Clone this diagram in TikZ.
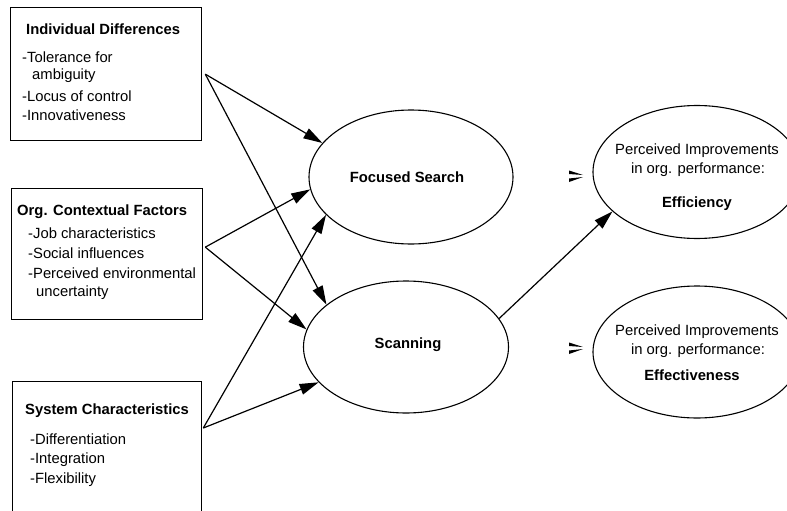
\documentclass[tikz,border=0pt]{standalone}
\usepackage{fontspec}
\setmainfont{Liberation Sans}
\usetikzlibrary{arrows.meta,shapes.geometric}
\begin{document}
\begin{tikzpicture}[x=1pt,y=-1pt,
 box/.style={draw,line width=1.3pt,rectangle,inner sep=0,anchor=north west},
 oval/.style={draw,ellipse,line width=1.1pt,inner sep=0},
 ttl/.style={font=\fontsize{14.8}{17}\selectfont\bfseries,anchor=base west,inner sep=0},
 itm/.style={font=\fontsize{14.8}{17}\selectfont,anchor=base west,inner sep=0},
 ctr/.style={font=\fontsize{14.8}{17}\selectfont,anchor=base,inner sep=0},
 ctrb/.style={font=\fontsize{14.8}{17}\selectfont\bfseries,anchor=base,inner sep=0},
 arr/.style={line width=1.2pt,-{Triangle[length=19pt,width=11pt]}}]
\useasboundingbox (0,0) rectangle (787,511);
\clip (0,0) rectangle (787,511);
% boxes
\node[box,minimum width=191pt,minimum height=133pt] (b1) at (10,7) {};
\node[box,minimum width=191pt,minimum height=131pt] (b2) at (11,188) {};
\node[box,minimum width=189pt,minimum height=160pt] (b3) at (12,381) {};
% box texts
\node[ttl] (t1) at (26,35) {Individual Differences};
\node[itm] (t1a) at (22,63) {-Tolerance for};
\node[itm] (t1b) at (32,80) {ambiguity};
\node[itm] (t1c) at (22,101) {-Locus of control};
\node[itm] (t1d) at (22,120) {-Innovativeness};
\node[ttl] (t2) at (17,215) {Org. Contextual Factors};
\node[itm] (t2a) at (28,238) {-Job characteristics};
\node[itm] (t2b) at (28,258) {-Social influences};
\node[itm] (t2c) at (28,278) {-Perceived environmental};
\node[itm] (t2d) at (36,296) {uncertainty};
\node[ttl] (t3) at (25,414) {System Characteristics};
\node[itm] (t3a) at (30,444) {-Differentiation};
\node[itm] (t3b) at (30,463) {-Integration};
\node[itm] (t3c) at (30,483) {-Flexibility};
% ellipses
\node[oval,minimum width=204pt,minimum height=134pt] (fs) at (411,177) {};
\node[oval,minimum width=205pt,minimum height=132pt] (sc) at (406,347) {};
\node[oval,minimum width=208pt,minimum height=133pt] (eff) at (697,172) {};
\node[oval,minimum width=208pt,minimum height=132pt] (efv) at (697,352) {};
\node[ctrb] (fst) at (407,182) {Focused Search};
\node[ctrb] (sct) at (408,348) {Scanning};
\node[ctr] (e1) at (697,154) {Perceived Improvements};
\node[ctr] (e2) at (698,173) {in org. performance:};
\node[ctrb] (e3) at (697,207) {Efficiency};
\node[ctr] (f1) at (697,335) {Perceived Improvements};
\node[ctr] (f2) at (698,354) {in org. performance:};
\node[ctrb] (f3) at (692,380) {Effectiveness};
% arrows
\draw[arr] ([xshift=3pt]b1.east) -- (fs.159);
\draw[arr] ([xshift=3pt]b1.east) -- (sc.152);
\draw[arr] ([xshift=2pt,yshift=7pt]b2.east) -- (fs.187.5);
\draw[arr] ([xshift=2pt,yshift=7pt]b2.east) -- (sc.170.5);
\draw[arr] ([xshift=1pt,yshift=-47pt]b3.north east) -- (fs.204);
\draw[arr] ([xshift=1pt,yshift=-47pt]b3.north east) -- (sc.202);
\draw[arr] (sc.17) -- (eff.205.5);
% small marks
\fill (569,170.5) -- (583,175) -- (569,174) -- cycle;
\fill (569,178.5) -- (583,177) -- (569,182) -- cycle;
\fill (569,342.5) -- (583,347) -- (569,346) -- cycle;
\fill (569,350.5) -- (583,349) -- (569,354) -- cycle;
\end{tikzpicture}
\end{document}
